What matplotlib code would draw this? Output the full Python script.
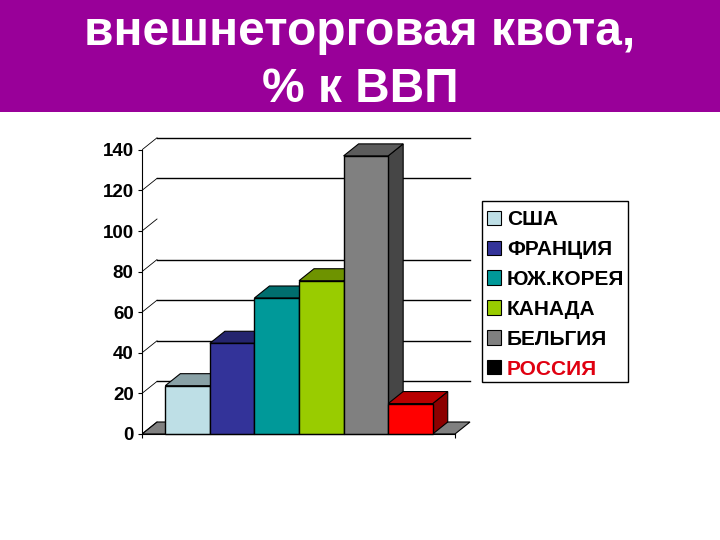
import matplotlib
matplotlib.use("Agg")
import matplotlib.pyplot as plt
from matplotlib.patches import Polygon, Rectangle
from matplotlib.colors import to_rgb

plt.rcParams['font.family'] = ['Liberation Sans', 'DejaVu Sans']

# data
countries = ['США', 'ФРАНЦИЯ', 'ЮЖ.КОРЕЯ', 'КАНАДА', 'БЕЛЬГИЯ', 'РОССИЯ']
quota = [23.8, 44.7, 67, 75.5, 137, 15]
bar_colors = ['#BEDFE6', '#333399', '#009999', '#99CC00', '#808080', '#FF0000']
legend_colors = ['#BEDFE6', '#333399', '#009999', '#99CC00', '#808080', '#000000']
label_colors = ['black', 'black', 'black', 'black', 'black', '#E00010']
y_ticks = [0, 20, 40, 60, 80, 100, 120, 140]
back_grid = [20, 40, 60, 80, 120, 140]   # the 100 line is missing in the original

W, H = 720, 540
fig = plt.figure(figsize=(7.2, 5.4), dpi=100)

# title band
fig.add_artist(Rectangle((0, 1 - 112 / H), 1, 112 / H, transform=fig.transFigure,
                         color='#990099', lw=0))
fig.text(0.5, 1 - 45 / H, 'внешнеторговая квота,', color='white', fontsize=34.5,
         fontweight='bold', ha='center', va='baseline')
fig.text(0.5, 1 - 102 / H, '% к ВВП', color='white', fontsize=34.5,
         fontweight='bold', ha='center', va='baseline')

# axes placed in pixels
left, right, top, bottom = 142, 472, 130, 452
ax = fig.add_axes([left / W, 1 - bottom / H, (right - left) / W, (bottom - top) / H])
ax.patch.set_alpha(0)
px_x = 44.57
px_y = 2.03
mid0 = 187.6
ax.set_xlim((left - mid0) / px_x, (right - mid0) / px_x)
ax.set_ylim((434 - bottom) / px_y, (434 - top) / px_y)

dx = 15 / px_x    # depth of the fake 3d
dy = 12 / px_y
x0 = (left - mid0) / px_x
x1 = (455 - mid0) / px_x

# floor
ax.add_patch(Polygon([(x0, 0), (x0 + dx, dy), (x1 + dx, dy), (x1, 0)], closed=True,
                     fc='#808080', ec='black', lw=0.8, zorder=1))

# back wall lines
for v in y_ticks:
    ax.plot([x0, x0 + dx], [v, v + dy], color='black', lw=0.6, zorder=1)
for v in back_grid:
    ax.plot([x0 + dx, x1 + dx], [v + dy, v + dy], color='black', lw=1, zorder=1)


def shade(c, f):
    return tuple(f * ch for ch in to_rgb(c))


# bars, left to right so that each one covers the depth of the one before
for i, (v, c) in enumerate(zip(quota, bar_colors)):
    z = 3 + i
    a, b = i - 0.5, i + 0.5
    ax.add_patch(Polygon([(b, 0), (b + dx, dy), (b + dx, v + dy), (b, v)], closed=True,
                         fc=shade(c, 0.55), ec='black', lw=0.8, zorder=z))
    ax.add_patch(Polygon([(a, v), (a + dx, v + dy), (b + dx, v + dy), (b, v)], closed=True,
                         fc=shade(c, 0.72), ec='black', lw=0.8, zorder=z))
    ax.bar(i, v, width=1.0, color=c, edgecolor='black', linewidth=1, zorder=z)

# axes
for s in ['top', 'right']:
    ax.spines[s].set_visible(False)
ax.spines['left'].set_bounds(0, 140)
ax.spines['bottom'].set_position(('data', 0))
ax.spines['bottom'].set_bounds(x0, x1)
ax.spines['bottom'].set_zorder(10)
ax.set_xticks([x0, x1])
ax.set_xticklabels([])
ax.tick_params(axis='x', length=3, width=0.8)
ax.set_yticks(y_ticks)
ax.set_yticklabels([str(v) for v in y_ticks], fontsize=13.5, fontweight='bold')
ax.tick_params(axis='y', length=3, width=0.8, pad=3)

# legend frame is drawn by hand, its box has uneven padding
fig.add_artist(Rectangle((482 / W, 1 - 382 / H), 146 / W, 181 / H, transform=fig.transFigure,
                         fc='white', ec='black', lw=1))
handles = [Rectangle((0, 0), 1, 1, fc=c, ec='black', lw=0.8) for c in legend_colors]
leg = fig.legend(handles, countries, loc='upper left',
                 bbox_to_anchor=(487 / W, 1 - 210 / H), frameon=False,
                 borderaxespad=0, prop={'weight': 'bold', 'size': 15},
                 handlelength=0.67, handleheight=0.67, handletextpad=0.29,
                 labelspacing=0.525, borderpad=0)
for t, c in zip(leg.get_texts(), label_colors):
    t.set_color(c)

fig.savefig('out.png', dpi=100)
